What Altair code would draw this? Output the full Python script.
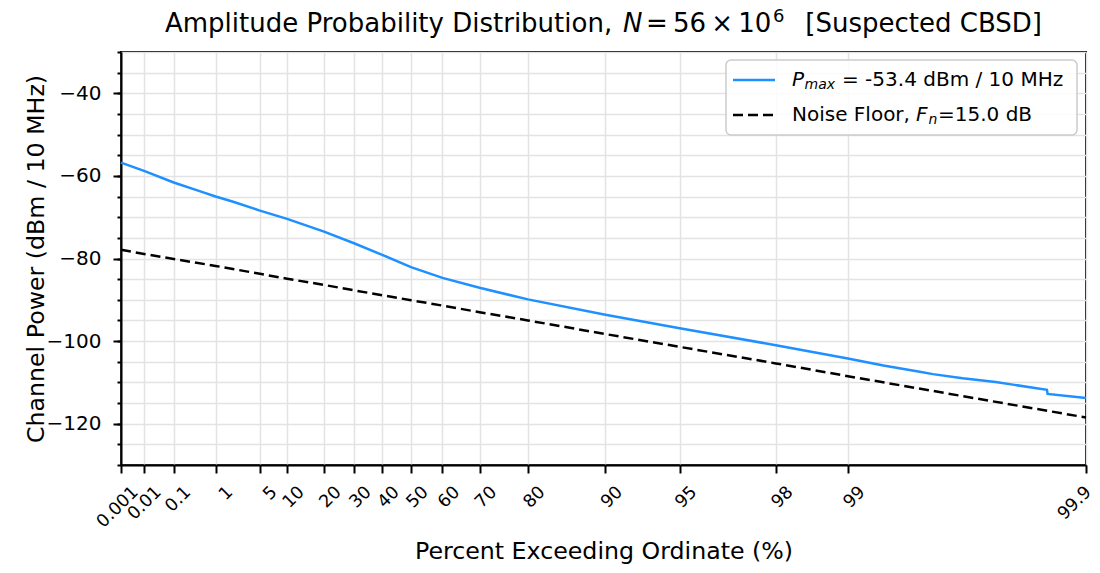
import altair as alt
import pandas as pd
import numpy as np

# ---------------- data ----------------
apd_pct = [0.001, 0.01, 0.1, 0.5, 1, 2, 5, 10, 20, 30, 40, 50, 60, 70, 80, 90, 95, 98, 99,
           99.29, 99.5, 99.56, 99.67, 99.76, 99.8, 99.854, 99.855, 99.9]
apd_dbm = [-56.8, -58.8, -61.6, -63.8, -65.0, -66.2, -68.4, -70.4, -73.5, -76.3, -79.1, -82.1,
           -84.7, -87.1, -89.9, -93.6, -96.9, -101.0, -104.2,
           -105.9, -107.4, -108.0, -109.0, -109.9, -110.6, -111.8, -112.8, -113.8]

noise_pct = [0.001, 0.01, 0.1, 1, 5, 10, 20, 30, 40, 50, 60, 70, 80, 90, 95, 98, 99, 99.9]
noise_dbm = [-77.9, -78.9, -80.1, -81.8, -83.7, -84.9, -86.4, -87.7, -88.9, -90.1, -91.4,
             -93.0, -95.0, -98.3, -101.4, -105.4, -108.5, -118.5]

tick_pct = [0.001, 0.01, 0.1, 1, 5, 10, 20, 30, 40, 50, 60, 70, 80, 90, 95, 98, 99, 99.9]
y_major = [-120, -100, -80, -60, -40]
y_minor = list(range(-130, -25, 5))

title_parts = ["Amplitude Probability Distribution,", "N", "=\u200956\u2009\u00d7\u200910", "6",
               "[Suspected CBSD]"]
legend_row1 = ["P", "max", "= -53.4 dBm / 10 MHz"]
legend_row2 = ["Noise Floor,", "F", "n", "=15.0 dB"]

# ---------------- styling ----------------
W, H = 965, 413
BLUE = "#1E90FF"
FONT = "DejaVu Sans"
GRID = "#e3e3e3"
LW = 2.5
DASH = [10, 5]
AX_TITLE = 23.7

df_apd = pd.DataFrame({"pct": apd_pct, "dbm": apd_dbm})
df_noise = pd.DataFrame({"pct": noise_pct, "dbm": noise_dbm})
one = pd.DataFrame({"k": [0]})

# Rayleigh (APD) axis: u = -log10(-ln(p/100))
u_expr = "-log(-log(datum.pct/100))/LN10"
tick_u = [float(-np.log10(-np.log(p / 100.0))) for p in tick_pct]
x_scale = alt.Scale(domain=[tick_u[0], tick_u[-1]], nice=False, zero=False)
y_scale = alt.Scale(domain=[-130, -30], nice=False, zero=False)

x_axis = alt.Axis(
    values=tick_u,
    labelExpr="format(100*exp(-pow(10,-datum.value)), '.3~g')",
    labelAngle=315, labelAlign="right", labelBaseline="middle",
    labelFontSize=17.5,
    labelOffset={"condition": {"test": "datum.value > 2.9", "value": 2}, "value": 14},
    labelPadding=16,
    labelFlush=False, labelOverlap=False, labelBound=False,
    tickSize=8, tickWidth=2, tickColor="black",
    domainColor="black", domainWidth=2,
    grid=True, gridColor=GRID, gridWidth=1.5,
    title="Percent Exceeding Ordinate (%)", titleFontSize=AX_TITLE, titleFontWeight="normal",
    titlePadding=9, titleColor="black", labelColor="black",
)

y_minor_axis = alt.Axis(
    orient="left", values=y_minor, labels=False, tickSize=4, tickWidth=2, tickColor="black",
    domain=False, grid=True, gridColor=GRID, gridWidth=1.5, title="",
)
y_major_axis = alt.Axis(
    orient="left", values=y_major, format="d", tickSize=8, tickWidth=2, tickColor="black",
    domainColor="black", domainWidth=2, grid=False,
    labelFontSize=20, labelColor="black", labelPadding=12,
    title="Channel Power (dBm / 10 MHz)", titleFontSize=AX_TITLE, titleFontWeight="normal",
    titleColor="black", titlePadding=-2,
)

noise = alt.Chart(df_noise).transform_calculate(u=u_expr).mark_line(
    color="black", strokeDash=DASH, strokeWidth=LW
).encode(
    x=alt.X("u:Q", scale=x_scale, axis=x_axis),
    y=alt.Y("dbm:Q", scale=y_scale, axis=y_minor_axis),
)

apd = alt.Chart(df_apd).transform_calculate(u=u_expr).mark_line(
    color=BLUE, strokeWidth=LW
).encode(
    x=alt.X("u:Q", scale=x_scale, axis=x_axis),
    y=alt.Y("dbm:Q", scale=y_scale, axis=y_major_axis),
)

# ---------------- legend (drawn by hand for sub-scripts) ----------------
leg_box = alt.Chart(one).mark_rect(
    fill="white", fillOpacity=0.85, stroke="#cccccc", strokeWidth=1.5, cornerRadius=5
).encode(x=alt.value(605), x2=alt.value(956), y=alt.value(8), y2=alt.value(83))

leg_blue = alt.Chart(one).mark_rule(color=BLUE, strokeWidth=LW).encode(
    x=alt.value(612), x2=alt.value(654), y=alt.value(28))
leg_black = alt.Chart(one).mark_rule(color="black", strokeWidth=LW, strokeDash=DASH).encode(
    x=alt.value(612), x2=alt.value(654), y=alt.value(63))


def txt(s, x, y, size, italic=False, align="left", baseline="middle"):
    kw = dict(align=align, baseline=baseline, fontSize=size, font=FONT, color="black")
    if italic:
        kw["fontStyle"] = "italic"
    return alt.Chart(one).mark_text(**kw).encode(
        x=alt.value(x), y=alt.value(y), text=alt.value(s))


legend = [
    leg_box, leg_blue, leg_black,
    txt(legend_row1[0], 671, 28, 20, italic=True),
    txt(legend_row1[1], 683.5, 33, 14, italic=True),
    txt(legend_row1[2], 721, 28, 20),
    txt(legend_row2[0], 671, 63, 20),
    txt(legend_row2[1], 795, 63, 20, italic=True),
    txt(legend_row2[2], 807.5, 68, 14, italic=True),
    txt(legend_row2[3], 817, 63, 20),
]

# ---------------- title (pieces for italic N and superscript) ----------------
title = [
    txt(title_parts[0], 44, -20, 26, baseline="alphabetic"),
    txt(title_parts[1], 502, -20, 26, italic=True, baseline="alphabetic"),
    txt(title_parts[2], 525, -20, 26, baseline="alphabetic"),
    txt(title_parts[3], 652, -30, 18, baseline="alphabetic"),
    txt(title_parts[4], 921, -20, 26, align="right", baseline="alphabetic"),
]

chart = alt.layer(noise, apd, *legend, *title).resolve_axis(y="independent").properties(
    width=W, height=H,
    autosize=alt.AutoSizeParams(type="none"),
    padding={"left": 113, "top": 44, "right": 6, "bottom": 100},
).configure(font=FONT).configure_view(stroke="black", strokeWidth=2)

chart.save("out.html", embed_options={"renderer": "svg", "actions": False})
